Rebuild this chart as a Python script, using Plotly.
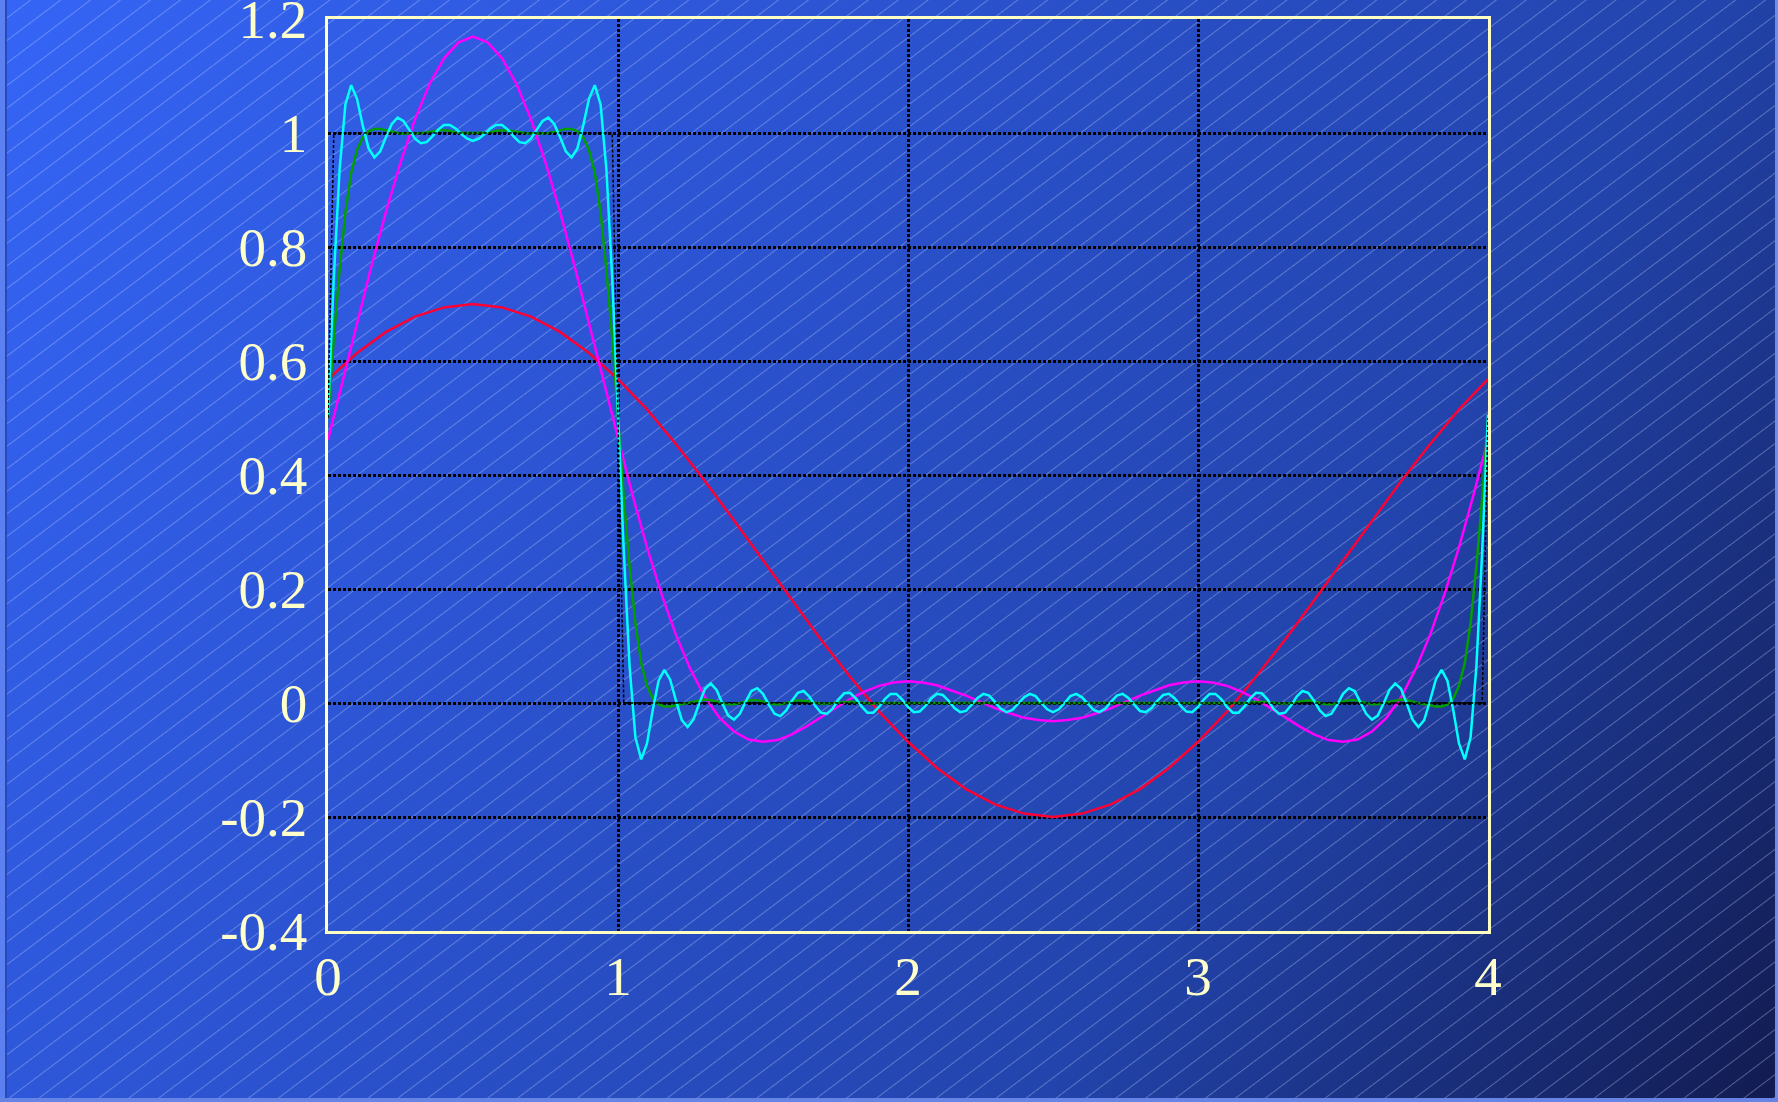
import base64
import plotly.graph_objects as go

# Partial sums of the Fourier series of a rectangular pulse (period 4, high on [0, 1])
RED_STEP = 0.1
RED = [
    0.568, 0.614, 0.651, 0.678, 0.694, 0.700, 0.694, 0.678, 0.651, 0.614,
    0.568, 0.515, 0.454, 0.389, 0.320, 0.250, 0.180, 0.111, 0.046, -0.015,
    -0.068, -0.114, -0.151, -0.178, -0.194, -0.200, -0.194, -0.178, -0.151, -0.114,
    -0.068, -0.015, 0.046, 0.111, 0.180, 0.250, 0.320, 0.389, 0.454, 0.515,
    0.568,
]

MAGENTA_STEP = 0.05
MAGENTA = [
    0.462, 0.564, 0.666, 0.767, 0.862, 0.948, 1.024, 1.086, 1.131, 1.159,
    1.169, 1.159, 1.131, 1.086, 1.024, 0.948, 0.862, 0.767, 0.666, 0.564,
    0.462, 0.365, 0.273, 0.191, 0.119, 0.059, 0.010, -0.026, -0.050, -0.064,
    -0.068, -0.065, -0.055, -0.041, -0.025, -0.009, 0.007, 0.020, 0.030, 0.036,
    0.038, 0.036, 0.031, 0.022, 0.013, 0.002, -0.009, -0.018, -0.026, -0.030,
    -0.032, -0.030, -0.026, -0.018, -0.009, 0.002, 0.013, 0.022, 0.031, 0.036,
    0.038, 0.036, 0.030, 0.020, 0.007, -0.009, -0.025, -0.041, -0.055, -0.065,
    -0.068, -0.064, -0.050, -0.026, 0.010, 0.059, 0.119, 0.191, 0.273, 0.365,
    0.462,
]

GREEN_STEP = 0.02
GREEN = [
    0.500, 0.640, 0.760, 0.860, 0.930, 0.970, 0.992, 1.003, 1.007, 1.007,
    1.005, 1.002, 1.000, 0.999, 0.999, 0.999, 1.000, 1.001, 1.003, 1.005,
    1.005, 1.004, 1.001, 1.000, 1.000, 1.000, 1.000, 1.000, 1.001, 1.004,
    1.005, 1.005, 1.003, 1.001, 1.000, 0.999, 0.999, 0.999, 1.000, 1.002,
    1.005, 1.007, 1.007, 1.003, 0.992, 0.970, 0.930, 0.860, 0.760, 0.640,
    0.500, 0.360, 0.240, 0.140, 0.070, 0.030, 0.008, -0.003, -0.006, -0.006,
    -0.004, -0.002, 0.000, 0.002, 0.005, 0.006, 0.005, 0.002, 0.000, -0.002,
    -0.002, 0.000, 0.003, 0.005, 0.005, 0.003, 0.000, -0.002, -0.002, 0.000,
    0.003, 0.005, 0.004, 0.002, 0.000, -0.001, -0.001, 0.000, 0.001, 0.002,
    0.002, 0.001, 0.000, -0.001, -0.001, 0.000, 0.000, 0.000, 0.000, 0.000,
    0.000, 0.000, 0.000, 0.000, 0.000, 0.000, 0.000, 0.000, 0.000, 0.000,
    0.000, 0.000, 0.000, 0.000, 0.000, 0.000, 0.000, 0.000, 0.000, 0.000,
    0.000, 0.000, 0.000, 0.000, 0.000, 0.000, 0.000, 0.000, 0.000, 0.000,
    0.000, 0.000, 0.000, 0.000, 0.000, 0.000, 0.000, 0.000, 0.000, 0.000,
    0.000, 0.000, 0.000, 0.000, 0.000, 0.000, 0.000, 0.000, 0.000, 0.000,
    0.000, 0.000, 0.000, 0.000, 0.000, 0.000, -0.001, -0.001, 0.000, 0.001,
    0.002, 0.002, 0.001, 0.000, -0.001, -0.001, 0.000, 0.002, 0.004, 0.005,
    0.003, 0.000, -0.002, -0.002, 0.000, 0.003, 0.005, 0.005, 0.003, 0.000,
    -0.002, -0.002, 0.000, 0.002, 0.005, 0.006, 0.005, 0.002, 0.000, -0.002,
    -0.004, -0.006, -0.006, -0.003, 0.008, 0.030, 0.070, 0.140, 0.240, 0.360,
    0.500,
]

CYAN_STEP = 0.02
CYAN = [
    0.506, 0.746, 0.936, 1.050, 1.084, 1.060, 1.013, 0.973, 0.957, 0.968,
    0.993, 1.016, 1.027, 1.021, 1.006, 0.990, 0.982, 0.984, 0.994, 1.006,
    1.014, 1.014, 1.008, 0.998, 0.990, 0.986, 0.990, 0.998, 1.008, 1.014,
    1.014, 1.006, 0.994, 0.984, 0.982, 0.990, 1.006, 1.021, 1.027, 1.016,
    0.993, 0.968, 0.957, 0.973, 1.013, 1.060, 1.084, 1.050, 0.936, 0.746,
    0.506, 0.266, 0.064, -0.060, -0.099, -0.071, -0.012, 0.039, 0.058, 0.041,
    0.004, -0.030, -0.042, -0.029, -0.001, 0.025, 0.034, 0.023, -0.001, -0.022,
    -0.029, -0.019, 0.002, 0.021, 0.026, 0.016, -0.003, -0.019, -0.023, -0.013,
    0.004, 0.018, 0.021, 0.011, -0.005, -0.017, -0.019, -0.010, 0.006, 0.017,
    0.018, 0.008, -0.006, -0.017, -0.017, -0.007, 0.007, 0.016, 0.016, 0.006,
    -0.007, -0.016, -0.015, -0.005, 0.008, 0.016, 0.014, 0.004, -0.009, -0.016,
    -0.014, -0.003, 0.009, 0.016, 0.013, 0.002, -0.010, -0.016, -0.012, -0.001,
    0.010, 0.016, 0.012, 0.000, -0.011, -0.016, -0.011, 0.000, 0.012, 0.016,
    0.010, -0.001, -0.012, -0.016, -0.010, 0.002, 0.013, 0.016, 0.009, -0.003,
    -0.014, -0.016, -0.009, 0.004, 0.014, 0.016, 0.008, -0.005, -0.015, -0.016,
    -0.007, 0.006, 0.016, 0.016, 0.007, -0.007, -0.017, -0.017, -0.006, 0.008,
    0.018, 0.017, 0.006, -0.010, -0.019, -0.017, -0.005, 0.011, 0.021, 0.018,
    0.004, -0.013, -0.023, -0.019, -0.003, 0.016, 0.026, 0.021, 0.002, -0.019,
    -0.029, -0.022, -0.001, 0.023, 0.034, 0.025, -0.001, -0.029, -0.042, -0.030,
    0.004, 0.041, 0.058, 0.039, -0.012, -0.071, -0.099, -0.060, 0.064, 0.266,
    0.506,
]

# The pulse itself, drawn as a thin dotted line
PULSE_X = [0.0, 0.02, 0.98, 1.0, 1.02, 3.98, 4.0]
PULSE_Y = [0.5, 1.0, 1.0, 0.5, 0.0, 0.0, 0.5]

X_TICKS = [0, 1, 2, 3, 4]
X_LABELS = ["0", "1", "2", "3", "4"]
Y_TICKS = [-0.4, -0.2, 0.0, 0.2, 0.4, 0.6, 0.8, 1.0, 1.2]
Y_LABELS = ["-0.4", "-0.2", "0", "0.2", "0.4", "0.6", "0.8", "1", "1.2"]


def sample_positions(step, values):
    return [round(i * step, 4) for i in range(len(values))]


W, H = 1778, 1102
L, T, PW, PH = 328, 19, 1160, 912
R = W - L - PW
B = H - T - PH

CREAM = "#FFFFC4"
LABEL_FONT = dict(family="Liberation Serif, Times New Roman, serif", size=55, color="#FFFFCC")

# Slide-style backdrop: diagonal blue gradient with fine light hatching
svg = f"""<svg xmlns='http://www.w3.org/2000/svg' width='{W}' height='{H}' viewBox='0 0 {W} {H}' preserveAspectRatio='none'>
<defs>
<linearGradient id='bg' gradientUnits='userSpaceOnUse' x1='0' y1='0' x2='{W}' y2='{H}'>
<stop offset='0' stop-color='#3565F6'/>
<stop offset='0.35' stop-color='#2C54D2'/>
<stop offset='0.7' stop-color='#2244AC'/>
<stop offset='1' stop-color='#121B50'/>
</linearGradient>
<pattern id='hatch' patternUnits='userSpaceOnUse' width='60' height='18' patternTransform='rotate(-37)'>
<line x1='0' y1='0.5' x2='60' y2='0.5' stroke='#C8D4FF' stroke-opacity='0.35' stroke-width='1'/>
</pattern>
</defs>
<rect width='{W}' height='{H}' fill='url(#bg)'/>
<rect width='{W}' height='{H}' fill='url(#hatch)'/>
<rect x='0' y='0' width='5' height='{H}' fill='#5A80F2'/>
<rect x='5' y='0' width='2' height='{H}' fill='#2A48B8'/>
<rect x='{W - 3}' y='0' width='3' height='{H}' fill='#6F8CEB'/>
<rect x='0' y='{H - 4}' width='{W}' height='4' fill='#6684E6'/>
</svg>"""
bg_uri = "data:image/svg+xml;base64," + base64.b64encode(svg.encode()).decode()

fig = go.Figure()
series = [
    ("N = 1", RED_STEP, RED, "#FF0033"),
    ("N = 3", MAGENTA_STEP, MAGENTA, "#FF00FF"),
    ("smoothed", GREEN_STEP, GREEN, "#009F00"),
    ("N = 25", CYAN_STEP, CYAN, "#00FFFF"),
]
for name, step, values, color in series:
    fig.add_trace(go.Scatter(
        x=sample_positions(step, values), y=values, mode="lines", name=name,
        line=dict(color=color, width=2.5), hoverinfo="skip",
    ))
fig.add_trace(go.Scatter(
    x=PULSE_X, y=PULSE_Y, mode="lines", name="pulse",
    line=dict(color="black", width=1.5, dash="3px,2px"), hoverinfo="skip",
))

axis_common = dict(
    showgrid=True, gridcolor="black", gridwidth=2.5, griddash="3px,2px",
    showline=True, mirror=True, linecolor=CREAM, linewidth=2.5,
    zeroline=False, ticks="", tickfont=LABEL_FONT, tickmode="array",
    ticklabeloverflow="allow", automargin=False,
)
fig.update_xaxes(range=[0, 4], tickvals=X_TICKS, ticktext=X_LABELS,
                 ticklabelstandoff=-5, **axis_common)
fig.update_yaxes(range=[-0.4, 1.2], tickvals=Y_TICKS, ticktext=Y_LABELS,
                 ticklabelstandoff=7, **axis_common)

fig.update_layout(
    width=W, height=H, autosize=False,
    margin=dict(l=L, r=R, t=T, b=B, pad=0, autoexpand=False),
    paper_bgcolor="#2646B8", plot_bgcolor="rgba(0,0,0,0)",
    showlegend=False,
    images=[dict(
        source=bg_uri, xref="paper", yref="paper",
        x=-L / PW, y=1 + T / PH, sizex=W / PW, sizey=H / PH,
        xanchor="left", yanchor="top", sizing="stretch", layer="below",
    )],
)

fig.write_html("out.html", include_plotlyjs=True, full_html=True,
               config=dict(displayModeBar=False))
